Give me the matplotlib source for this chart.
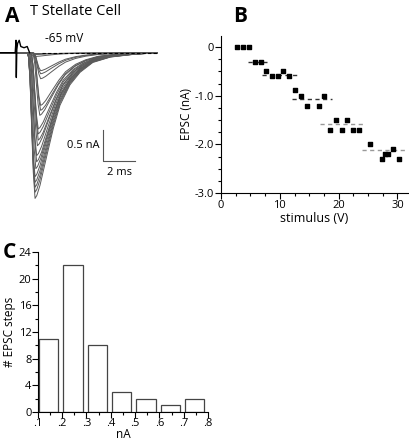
import numpy as np
import matplotlib
matplotlib.use("Agg")
import matplotlib.pyplot as plt

plt.rcParams['font.family'] = ['Open Sans', 'DejaVu Sans']
plt.rcParams['axes.linewidth'] = 0.8

# ---- panel A: EPSC traces (template, normalised)
tmpl_t = [0.0, 1.7, 1.78, 1.875, 1.98, 2.08, 2.19, 2.3, 2.5, 2.92, 3.33, 3.75,
          4.375, 5.0, 5.8, 6.9, 8.3, 9.8]
tmpl_v = [0.0, 0.0, 0.03, 0.18, 0.52, 0.82, 1.0, 0.98, 0.91, 0.71, 0.52, 0.36,
          0.22, 0.135, 0.067, 0.03, 0.012, 0.0]
peak_amps = [0.0, 0.03, 0.06, 0.29, 0.34, 0.42, 0.85, 0.93, 1.01, 1.23, 1.31,
             1.41, 1.5, 1.66, 1.76, 1.87, 2.0, 2.09, 2.17, 2.25, 2.35]
peak_delay = [0, 0, 0, 0.35, 0.35, 0.35, 0.35, 0.35, 0.3, 0.2, 0.2,
              0.2, 0.15, 0.1, 0.1, 0.05, 0, 0, 0, 0, 0]
# stimulus artifact
art_t = [0.0, 0.95, 1.0, 1.02, 1.05, 1.1, 1.2, 1.3, 1.5, 1.7, 1.85]
art_v = [0.0, 0.0, 0.2, -0.4, 0.05, 0.15, 0.2, 0.1, 0.08, 0.1, 0.0]

# ---- panel B: EPSC vs stimulus
stim = [2.8, 3.8, 4.8, 5.8, 6.8, 7.7, 8.7, 9.7, 10.6, 11.6, 12.6, 13.6, 14.6, 16.6,
        17.5, 18.5, 19.5, 20.5, 21.5, 22.4, 23.4, 25.4, 27.3, 27.9, 28.4, 29.3, 30.3]
epsc = [0, 0, 0, -0.3, -0.3, -0.5, -0.6, -0.6, -0.5, -0.6, -0.89, -1.0, -1.2, -1.2,
        -1.0, -1.7, -1.5, -1.7, -1.5, -1.7, -1.7, -2.0, -2.3, -2.2, -2.2, -2.1, -2.3]
step_levels = [-0.3, -0.575, -1.07, -1.58, -2.12]
step_start = [4.6, 7.0, 12.0, 16.8, 24.0]
step_end = [7.9, 13.0, 18.9, 24.5, 31.8]
step_colors = ['#333333', '#333333', '#333333', '#999999', '#999999']

# ---- panel C: histogram of step sizes
bin_left = [0.105, 0.205, 0.305, 0.405, 0.505, 0.605, 0.705]
counts = [11, 22, 10, 3, 2, 1, 2]
bin_width = 0.08

fig = plt.figure(figsize=(4.10, 4.42), dpi=100)
W, H = 410.0, 442.0

# A
axA = fig.add_axes([0, 1 - 205 / H, 160 / W, 175 / H])
axA.set_xlim(0, 10)
axA.set_ylim(-2.456, 0.366)
axA.axis('off')
tt = np.array(tmpl_t)
tv = np.array(tmpl_v)
for a, d in zip(peak_amps, peak_delay):
    shifted = np.concatenate([[0.0], tt[1:-1] + d, [9.8]])
    axA.plot(shifted, -a * tv, color='#5a5a5a', lw=0.7)
axA.plot(art_t, art_v, color='black', lw=1.0)
axA.plot([2.6, 9.8], [0, 0], color='black', lw=0.8, ls=(0, (3, 2)))
# scale bar
axA.plot([6.44, 6.44, 8.44], [-1.25, -1.75, -1.75], color='#555555', lw=0.8)
axA.text(6.25, -1.5, '0.5 nA', ha='right', va='center', fontsize=8)
axA.text(7.5, -1.85, '2 ms', ha='center', va='top', fontsize=8)
axA.text(2.8, 0.12, '-65 mV', ha='left', va='bottom', fontsize=8.5)

fig.text(5 / W, 1 - 6 / H, 'A', fontsize=15, fontweight='bold', va='top', ha='left')
fig.text(30 / W, 1 - 4 / H, 'T Stellate Cell', fontsize=10.5, va='top', ha='left')

# B
axB = fig.add_axes([221 / W, 1 - 193 / H, 187 / W, 157 / H])
axB.scatter(stim, epsc, marker='s', s=9, color='black', zorder=3)
for lv, x0, x1, c in zip(step_levels, step_start, step_end, step_colors):
    axB.plot([x0, x1], [lv, lv], color=c, lw=1.0, ls=(0, (3, 2.5)))
axB.set_xlim(0, 31.8)
axB.set_ylim(-3, 0.23)
axB.set_xticks([0, 10, 20, 30])
axB.set_xticks(np.arange(0, 31.8, 2.5), minor=True)
axB.set_yticks([0, -1, -2, -3])
axB.set_yticklabels(['0', '-1.0', '-2.0', '-3.0'])
axB.set_yticks(np.arange(-3, 0.24, 0.25), minor=True)
axB.spines['top'].set_visible(False)
axB.spines['right'].set_visible(False)
axB.tick_params(which='major', length=4, width=0.8, labelsize=8, pad=1)
axB.tick_params(which='minor', length=2.5, width=0.8)
axB.set_xlabel('stimulus (V)', fontsize=9, labelpad=1)
axB.set_ylabel('EPSC (nA)', fontsize=8.5, labelpad=1)
fig.text(233 / W, 1 - 6 / H, 'B', fontsize=15, fontweight='bold', va='top', ha='left')

# C
axC = fig.add_axes([37.7 / W, 1 - 412 / H, 170.3 / W, 160 / H])
axC.bar(bin_left, counts, width=bin_width, align='edge', facecolor='white',
        edgecolor='#444444', lw=0.9)
axC.set_xlim(0.1, 0.8)
axC.set_ylim(0, 24)
xt = [0.1, 0.2, 0.3, 0.4, 0.5, 0.6, 0.7, 0.8]
axC.set_xticks(xt)
axC.set_xticklabels(['.1', '.2', '.3', '.4', '.5', '.6', '.7', '.8'])
axC.set_xticks(np.arange(0.15, 0.8, 0.1), minor=True)
axC.set_yticks(np.arange(0, 25, 4))
axC.set_yticks(np.arange(2, 24, 4), minor=True)
axC.spines['top'].set_visible(False)
axC.spines['right'].set_visible(False)
axC.tick_params(which='major', length=4, width=0.8, labelsize=8, pad=0.5)
axC.tick_params(which='minor', length=2.5, width=0.8)
axC.set_xlabel('nA', fontsize=8.5, labelpad=-1)
axC.set_ylabel('# EPSC steps', fontsize=8.5, labelpad=2)
fig.text(3 / W, 1 - 242 / H, 'C', fontsize=15, fontweight='bold', va='top', ha='left')

fig.savefig('out.png', dpi=100)
